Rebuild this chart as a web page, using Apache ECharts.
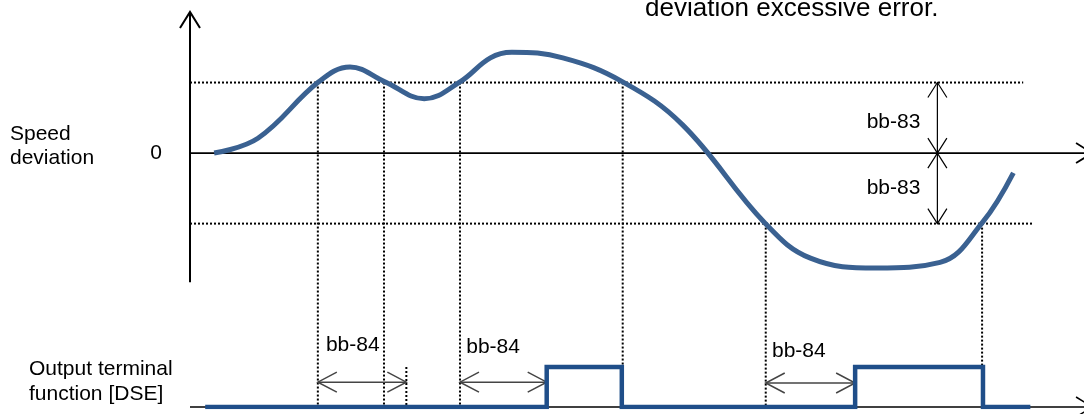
<!DOCTYPE html>
<html>
<head>
<meta charset="utf-8">
<script src="https://cdn.jsdelivr.net/npm/echarts@6/dist/echarts.min.js"></script>
<style>
html, body { margin: 0; padding: 0; background: #fff; }
#chart { width: 1084px; height: 414px; }
</style>
</head>
<body>
<div id="chart"></div>
<script>
// time axis 0..100, deviation in units of bb-83 (threshold = 1)
var timeMax = 100;
var curveT   = [2.7, 7.6, 14.4, 17.9, 21.8, 26.2, 30.2, 33.6, 36.0, 41.7, 48.4, 55.1, 64.3, 69.4, 76.8, 83.9, 88.6, 92.1];
var curveDev = [0, 0.21, 1.01, 1.22, 1.01, 0.77, 1.01, 1.35, 1.43, 1.35, 1.01, 0.40, -0.99, -1.49, -1.63, -1.55, -0.99, -0.28];

// output terminal [DSE] signal (0 = off, 1 = on)
var dseT     = [1.7, 39.9, 39.9, 48.3, 48.3, 74.4, 74.4, 88.7, 88.7, 94.0];
var dseLevel = [0, 0, 1, 1, 0, 0, 1, 1, 0, 0];

// bb-83 threshold lines and crossing points
var thresholdDev  = [1, -1];
var thresholdEndT = [93.2, 94.2];
var crossT   = [14.3, 21.7, 30.2, 48.4, 64.4, 88.6];
var crossDev = [1, 1, 1, 1, -1, -1];
var bb83T = 83.6;
var bb83LabelT = 81.7;
var bb83LabelDev = [0.44, -0.5];

// bb-84 delay arrows
var bb84Start = [14.3, 30.2, 64.4];
var bb84End   = [24.2, 39.9, 74.4];
var bb84ArrowLevel = [0.62, 0.62, 0.6];
var bb84LabelT = [15.2, 30.9, 65.1];
var bb84LabelLevel = [1.55, 1.5, 1.4];

// axis ranges
var devMin = -3.6, devMax = 2.0, devAxisBottom = -1.83;
var dseMax = 9.875;
var arrowTipT = 100.9;

var FONT = '"Liberation Sans", Arial, sans-serif';

// 偏差区域的标注
var devMarks = [];
devMarks.push({kind: 'arrow', from: [0, devAxisBottom], to: [0, devMax], heads: [false, true], width: 2, len: 16, half: 10, color: '#000'});
devMarks.push({kind: 'arrow', from: [0, 0], to: [arrowTipT, 0], heads: [false, true], width: 1.8, len: 16, half: 10, color: '#000'});
thresholdDev.forEach(function (d, i) {
    devMarks.push({kind: 'dots', from: [0, d], to: [thresholdEndT[i], d]});
});
crossT.forEach(function (t, i) {
    devMarks.push({kind: 'dots', from: [t, crossDev[i]], toBottom: true});
});
thresholdDev.forEach(function (d, i) {
    devMarks.push({kind: 'arrow', from: [bb83T, 0], to: [bb83T, d], heads: [true, true], width: 1.2, len: 15, half: 9.5, color: '#000'});
    devMarks.push({kind: 'text', at: [bb83LabelT, bb83LabelDev[i]], text: 'bb-83', align: 'right'});
});

// DSE 区域的标注
var dseMarks = [];
dseMarks.push({kind: 'arrow', from: [0, 0], to: [arrowTipT, 0], heads: [false, true], width: 1.5, len: 16, half: 10, color: '#000'});
dseMarks.push({kind: 'dots', from: [bb84End[0], 1], to: [bb84End[0], 0]});
bb84Start.forEach(function (t, i) {
    dseMarks.push({kind: 'arrow', from: [t, bb84ArrowLevel[i]], to: [bb84End[i], bb84ArrowLevel[i]], heads: [true, true], width: 1.5, len: 19, half: 10, color: '#444'});
    dseMarks.push({kind: 'text', at: [bb84LabelT[i], bb84LabelLevel[i]], text: 'bb-84', align: 'left'});
});

function head(tip, from, len, half, st) {
    var dx = tip[0] - from[0], dy = tip[1] - from[1];
    var d = Math.sqrt(dx * dx + dy * dy);
    var ux = dx / d, uy = dy / d;
    var bx = tip[0] - ux * len, by = tip[1] - uy * len;
    return {
        type: 'polyline',
        shape: {points: [[bx - uy * half, by + ux * half], tip, [bx + uy * half, by - ux * half]]},
        style: st
    };
}

function renderMarks(list) {
    return function (params, api) {
        var m = list[params.dataIndex];
        var box = params.coordSys;
        var children = [];
        var a, b;
        if (m.kind === 'arrow') {
            a = api.coord(m.from);
            b = api.coord(m.to);
            var st = {stroke: m.color, lineWidth: m.width, fill: null};
            children.push({type: 'line', shape: {x1: a[0], y1: a[1], x2: b[0], y2: b[1]}, style: st});
            if (m.heads[0]) children.push(head(a, b, m.len, m.half, st));
            if (m.heads[1]) children.push(head(b, a, m.len, m.half, st));
        } else if (m.kind === 'dots') {
            a = api.coord(m.from);
            b = m.toBottom ? [a[0], box.y + box.height] : api.coord(m.to);
            children.push({type: 'line', shape: {x1: a[0], y1: a[1], x2: b[0], y2: b[1]},
                style: {stroke: '#000', lineWidth: 2, lineDash: [2, 2]}});
        } else if (m.kind === 'text') {
            a = api.coord(m.at);
            children.push({type: 'text', x: a[0], y: a[1],
                style: {text: m.text, font: '21px ' + FONT, fill: '#000', align: m.align, verticalAlign: 'middle'}});
        }
        return {type: 'group', children: children};
    };
}

var chart = echarts.init(document.getElementById('chart'));
var option = {
    animation: false,
    grid: {left: 190, right: 0, top: 12, bottom: 7},
    xAxis: {type: 'value', min: 0, max: timeMax, show: false},
    yAxis: [
        {
            type: 'value', min: devMin, max: devMax,
            axisLine: {show: false}, axisTick: {show: false}, splitLine: {show: false},
            axisLabel: {customValues: [0], fontSize: 21, color: '#000', margin: 28, fontFamily: FONT}
        },
        {type: 'value', min: 0, max: dseMax, show: false}
    ],
    graphic: [
        {type: 'text', left: 10, top: 122, style: {text: 'Speed\ndeviation', font: '21px ' + FONT, lineHeight: 24, fill: '#000'}},
        {type: 'text', left: 29, top: 357, style: {text: 'Output terminal\nfunction [DSE]', font: '21px ' + FONT, lineHeight: 25, fill: '#000'}},
        {type: 'text', left: 645, top: -4, style: {text: 'deviation excessive error.', font: '26px ' + FONT, fill: '#000'}}
    ],
    series: [
        {
            type: 'custom', coordinateSystem: 'cartesian2d', yAxisIndex: 0, z: 1, silent: true,
            renderItem: renderMarks(devMarks),
            data: devMarks.map(function (m, i) { return [0, 0, i]; })
        },
        {
            type: 'custom', coordinateSystem: 'cartesian2d', yAxisIndex: 1, z: 1, silent: true,
            renderItem: renderMarks(dseMarks),
            data: dseMarks.map(function (m, i) { return [0, 0, i]; })
        },
        {
            type: 'line', yAxisIndex: 0, z: 3, symbol: 'none', smooth: 0.4,
            lineStyle: {color: '#3a6191', width: 5, cap: 'butt'},
            data: curveT.map(function (t, i) { return [t, curveDev[i]]; })
        },
        {
            type: 'line', yAxisIndex: 1, z: 3, symbol: 'none',
            lineStyle: {color: '#1f4e89', width: 4.5, join: 'miter'},
            data: dseT.map(function (t, i) { return [t, dseLevel[i]]; })
        }
    ]
};
chart.setOption(option);
</script>
</body>
</html>
